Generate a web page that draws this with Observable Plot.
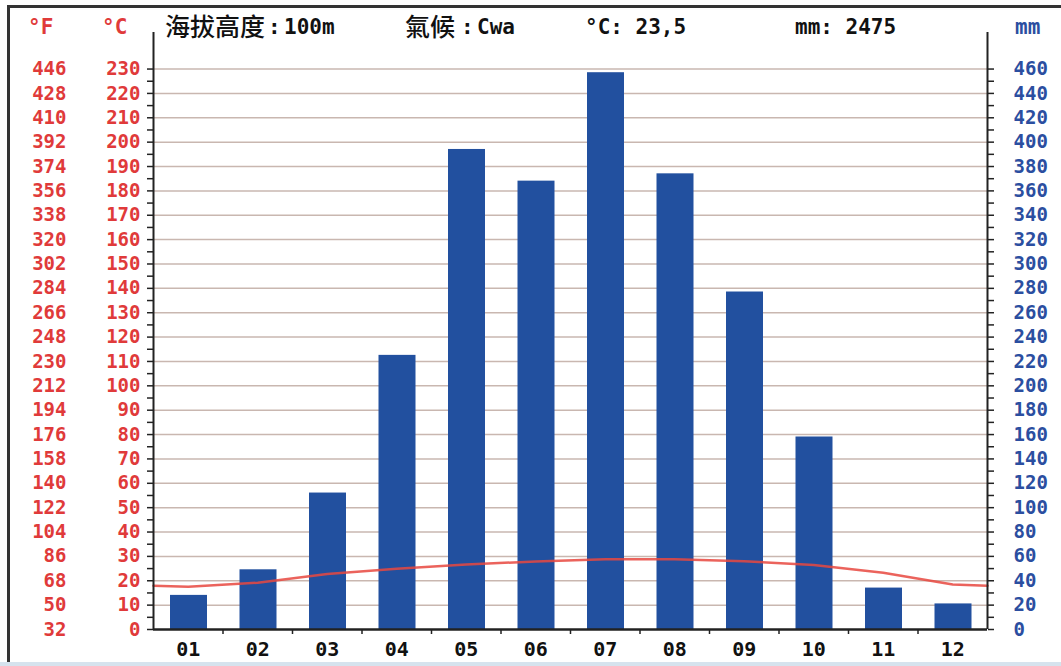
<!DOCTYPE html>
<html>
<head>
<meta charset="utf-8">
<script src="https://cdn.jsdelivr.net/npm/d3@7"></script>
<script src="https://cdn.jsdelivr.net/npm/@observablehq/plot@0.6"></script>
<style>
  html, body { margin: 0; padding: 0; background: #fff; }
  #wrap { position: relative; width: 1061px; height: 666px; overflow: hidden; background: #fff; }
  #wrap svg { position: absolute; left: 0; top: 0; }
  .h { position: absolute; line-height: 1; white-space: nowrap; font-family: "DejaVu Sans Mono", monospace; font-weight: bold; font-size: 21px; }
  .cjk { font-family: "Noto Sans CJK TC", "Noto Sans CJK SC", sans-serif; font-weight: 500; font-size: 25px; }
  .red { color: #e03a3a; }
  .blue { color: #2b4ea0; }
  .blk { color: #111; }
  #bTop { position: absolute; left: 7px; top: 5px; right: 0; height: 3px; background: #333; }
  #bLeft { position: absolute; left: 7px; top: 5px; width: 3px; bottom: 0; background: #333; }
  #bBot { position: absolute; left: 0; right: 0; bottom: 0; height: 4px; background: #d6e3ee; }
</style>
</head>
<body>
<div id="wrap">
  <div id="bTop"></div><div id="bLeft"></div><div id="bBot"></div>
</div>
<script>
// ---- data ----
const months = ["01","02","03","04","05","06","07","08","09","10","11","12"];
const precipMM = [28, 49, 112, 225, 394, 368, 457, 374, 277, 158, 34, 21];
const tempC = [17.5, 19.2, 22.8, 24.9, 26.7, 27.9, 28.8, 28.8, 28.0, 26.5, 23.3, 18.5];
const mmTicks = [0,20,40,60,80,100,120,140,160,180,200,220,240,260,280,300,320,340,360,380,400,420,440,460];
const celsiusLabels = [0,10,20,30,40,50,60,70,80,90,100,110,120,130,140,150,160,170,180,190,200,210,220,230];
const fahrenheitLabels = [32,50,68,86,104,122,140,158,176,194,212,230,248,266,284,302,320,338,356,374,392,410,428,446];
const headerItems = ["°F", "°C", "海拔高度", ":", "100m", "氣候", ":", "Cwa", "°C: 23,5", "mm: 2475", "mm"];

// ---- derived tables ----
const bars = months.map((m, i) => ({m, i: i + 1, mm: precipMM[i]}));
const wrapT = (tempC[11] + tempC[0]) / 2;
const linePts = [{x: 1, t: wrapT}, ...months.map((m, i) => ({x: i + 1.5, t: tempC[i]})), {x: 13, t: wrapT}];
const minorTicks = d3.range(0, 461, 10);

const RED = "#e03a3a", BLUE = "#2b4ea0", BAR = "#22509f", GRID = "#c9b7b0";
const FONT = "DejaVu Sans Mono";

const chart = Plot.plot({
  width: 1061,
  height: 666,
  marginLeft: 153,
  marginRight: 74,
  marginTop: 32,
  marginBottom: 37,
  style: {fontFamily: FONT, background: "transparent", overflow: "visible"},
  x: {type: "linear", domain: [1, 13], axis: null},
  y: {domain: [0, 490], axis: null},
  marks: [
    Plot.ruleY(mmTicks.slice(1), {stroke: GRID, strokeWidth: 1.5}),
    Plot.rectY(bars, {x1: "i", x2: d => d.i + 1, y: "mm", fill: BAR, insetLeft: 17, insetRight: 15.5}),
    Plot.line(linePts, {x: "x", y: d => d.t * 2, stroke: "#e8483f", strokeWidth: 2.5, strokeOpacity: 0.85}),
    // axis lines
    Plot.ruleX([1, 13], {stroke: "#222", strokeWidth: 2}),
    Plot.ruleY([0], {stroke: "#222", strokeWidth: 2.5}),
    // minor ticks
    Plot.axisY({anchor: "left", ticks: minorTicks, tickSize: 6, tickFormat: () => "", stroke: "#222", strokeWidth: 1.5, label: null}),
    Plot.axisY({anchor: "right", ticks: minorTicks, tickSize: 6, tickFormat: () => "", stroke: "#222", strokeWidth: 1.5, label: null}),
    // °C labels
    Plot.axisY({anchor: "left", ticks: mmTicks, tickSize: 0, tickPadding: 13,
      tickFormat: d => String(celsiusLabels[mmTicks.indexOf(d)]),
      fill: RED, fontSize: 19, fontWeight: "bold", fontFamily: FONT, label: null}),
    // °F labels
    Plot.axisY({anchor: "left", ticks: mmTicks, tickSize: 0, tickPadding: 87,
      tickFormat: d => String(fahrenheitLabels[mmTicks.indexOf(d)]),
      fill: RED, fontSize: 19, fontWeight: "bold", fontFamily: FONT, label: null}),
    // mm labels
    Plot.axisY({anchor: "right", ticks: mmTicks, tickSize: 0, tickPadding: 26,
      tickFormat: d => String(d),
      fill: BLUE, fontSize: 19, fontWeight: "bold", fontFamily: FONT, label: null}),
    // x ticks at month boundaries
    Plot.axisX({anchor: "bottom", ticks: d3.range(2, 13), tickSize: 5, tickFormat: () => "", stroke: "#222", strokeWidth: 1.5, label: null}),
    // month labels
    Plot.axisX({anchor: "bottom", ticks: months.map((m, i) => i + 1.5), tickSize: 0, tickPadding: 12,
      tickFormat: d => months[Math.round(d - 1.5)],
      fill: "#111", fontSize: 20, fontWeight: "bold", fontFamily: FONT, label: null})
  ]
});

const wrap = document.getElementById("wrap");
wrap.insertBefore(chart, wrap.firstChild);

// header texts
const headerPos = [
  {x: 28, cls: "h red"},
  {x: 102, cls: "h red"},
  {x: 165, cls: "h blk cjk"},
  {x: 268, cls: "h blk"},
  {x: 284, cls: "h blk"},
  {x: 405, cls: "h blk cjk"},
  {x: 461, cls: "h blk"},
  {x: 477, cls: "h blk"},
  {x: 585, cls: "h blk"},
  {x: 795, cls: "h blk"},
  {x: 1015, cls: "h blue"}
];
headerItems.forEach((t, i) => {
  const s = document.createElement("span");
  s.className = headerPos[i].cls;
  s.textContent = t;
  s.style.left = headerPos[i].x + "px";
  s.style.top = (headerPos[i].cls.includes("cjk") ? 13 : 17) + "px";
  wrap.appendChild(s);
});
</script>
</body>
</html>
